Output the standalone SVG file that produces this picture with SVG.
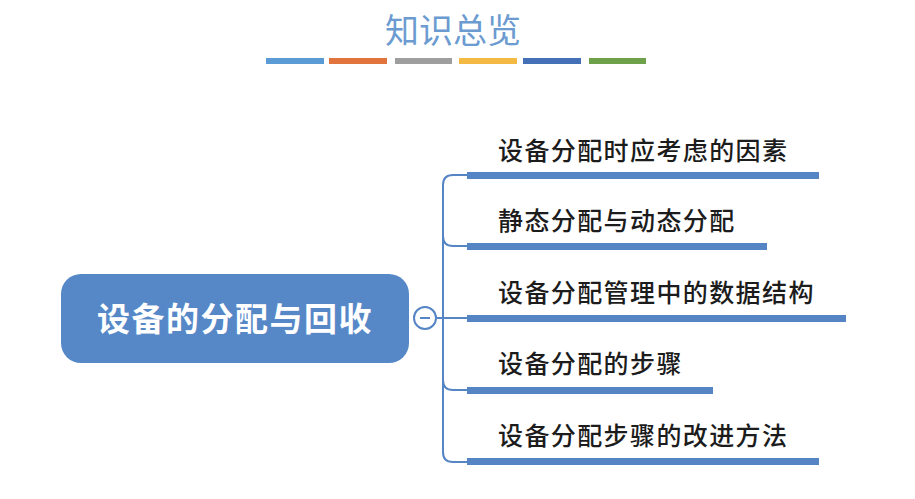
<svg xmlns="http://www.w3.org/2000/svg" width="915" height="499" viewBox="0 0 915 499">
<style>
.t{font-family:"Noto Sans CJK SC","Noto Sans",sans-serif;}
.title{font-size:34px;fill:#6b9bd0;}
.lbl{font-size:25px;fill:#1c1c1c;font-weight:500;letter-spacing:1.4px;}
.main{font-size:33px;fill:#ffffff;font-weight:bold;letter-spacing:1.5px;}
.bar{fill:#5585c5;}
.conn{fill:none;stroke:#5585c5;stroke-width:2;}
</style>
<rect width="915" height="499" fill="#ffffff"/>
<g id="title">
<text class="t title" x="453" y="43" text-anchor="middle">知识总览</text>
<rect x="266" y="58" width="58" height="6" fill="#5b9bd5"/>
<rect x="329" y="58" width="58" height="6" fill="#e0743c"/>
<rect x="395" y="58" width="57" height="6" fill="#9e9e9e"/>
<rect x="459" y="58" width="58" height="6" fill="#f4b942"/>
<rect x="523" y="58" width="58" height="6" fill="#4470b8"/>
<rect x="589" y="58" width="57" height="6" fill="#6fa04a"/>
</g>
<g id="connectors">
<path class="conn" d="M437 318 H467"/>
<path class="conn" d="M467 175 H453 Q443 175 443 185 V452 Q443 462 453 462 H467"/>
<path class="conn" d="M443 236 Q443 246 453 246 H467"/>
<path class="conn" d="M443 380 Q443 390 453 390 H467"/>
</g>
<g id="root">
<rect x="61" y="274" width="348" height="89" rx="20" fill="#5688c8"/>
<text class="t main" x="235" y="331" text-anchor="middle">设备的分配与回收</text>
<circle cx="425" cy="318" r="11" fill="#ffffff" stroke="#5585c5" stroke-width="2"/>
<line x1="420" y1="318" x2="430" y2="318" stroke="#5585c5" stroke-width="2"/>
</g>
<g id="n1">
<text class="t lbl" x="498" y="160">设备分配时应考虑的因素</text>
<rect class="bar" x="467" y="172" width="352" height="7"/>
</g>
<g id="n2">
<text class="t lbl" x="498" y="230">静态分配与动态分配</text>
<rect class="bar" x="467" y="243" width="300" height="7"/>
</g>
<g id="n3">
<text class="t lbl" x="498" y="302">设备分配管理中的数据结构</text>
<rect class="bar" x="467" y="315" width="379" height="7"/>
</g>
<g id="n4">
<text class="t lbl" x="498" y="373">设备分配的步骤</text>
<rect class="bar" x="467" y="387" width="246" height="7"/>
</g>
<g id="n5">
<text class="t lbl" x="498" y="445">设备分配步骤的改进方法</text>
<rect class="bar" x="467" y="458" width="352" height="7"/>
</g>
</svg>
